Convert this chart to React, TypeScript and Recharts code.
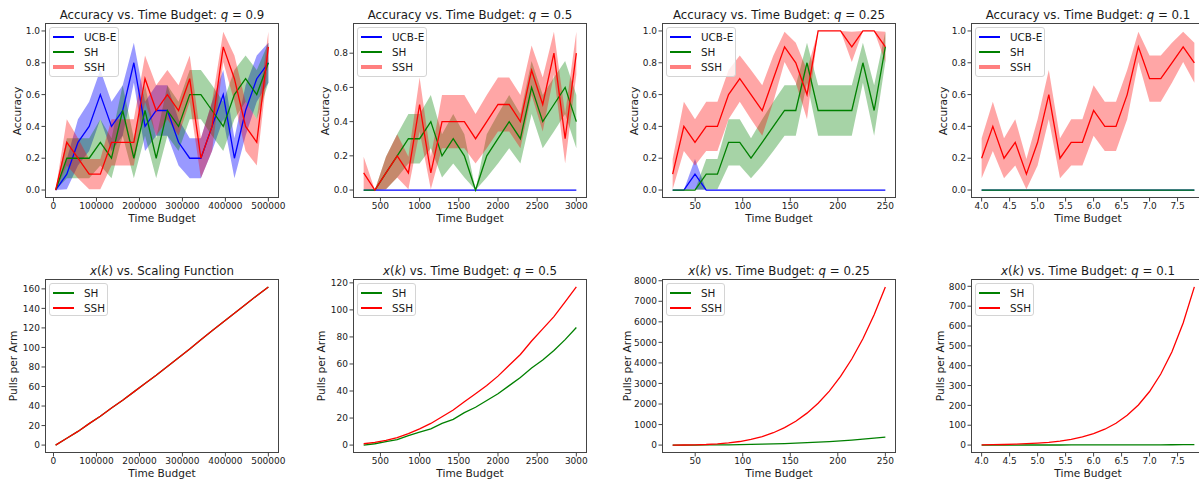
import React from 'react';
import { ComposedChart, Line, Area, XAxis, YAxis } from 'recharts';

const FONT = "'DejaVu Sans', 'Liberation Sans', sans-serif";

// time budgets (x values) per experiment
const BUDGET_Q09 = [5000, 31000, 57000, 83000, 109000, 135000, 161000, 187000, 213000, 239000, 265000, 291000, 317000, 343000, 369000, 395000, 421000, 447000, 473000, 500000];
const BUDGET_Q05 = [286, 429, 571, 714, 857, 1000, 1143, 1286, 1429, 1571, 1714, 1857, 2000, 2143, 2286, 2429, 2571, 2714, 2857, 3000];
const BUDGET_Q025 = [26.3, 38.1, 49.8, 61.6, 73.4, 85.1, 96.9, 108.7, 120.5, 132.2, 144.0, 155.8, 167.6, 179.3, 191.1, 202.9, 214.7, 226.4, 238.2, 250];
const BUDGET_Q01 = [4.0, 4.2, 4.4, 4.6, 4.8, 5.0, 5.2, 5.4, 5.6, 5.8, 6.0, 6.2, 6.4, 6.6, 6.8, 7.0, 7.2, 7.4, 7.6, 7.8];

// accuracy means
const ACC_UCB_Q09 = [0, 0.1, 0.3, 0.4, 0.6, 0.4, 0.5, 0.8, 0.4, 0.5, 0.5, 0.3, 0.2, 0.2, 0.4, 0.6, 0.2, 0.5, 0.7, 0.8];
const ACC_SH_Q09 = [0, 0.2, 0.2, 0.2, 0.3, 0.2, 0.5, 0.2, 0.5, 0.2, 0.5, 0.4, 0.6, 0.6, 0.5, 0.4, 0.6, 0.7, 0.6, 0.8];
const ACC_SSH_Q09 = [0, 0.3, 0.2, 0.1, 0.1, 0.3, 0.3, 0.3, 0.7, 0.5, 0.6, 0.5, 0.7, 0.2, 0.4, 0.9, 0.7, 0.4, 0.3, 0.9];

const ACC_UCB_Q05 = [0, 0, 0, 0, 0, 0, 0, 0, 0, 0, 0, 0, 0, 0, 0, 0, 0, 0, 0, 0];
const ACC_SH_Q05 = [0, 0, 0.1, 0.2, 0.3, 0.3, 0.4, 0.2, 0.3, 0.2, 0, 0.2, 0.3, 0.4, 0.3, 0.6, 0.4, 0.5, 0.6, 0.4];
const ACC_SSH_Q05 = [0.1, 0, 0.1, 0.2, 0.1, 0.5, 0.1, 0.4, 0.4, 0.4, 0.3, 0.4, 0.5, 0.5, 0.4, 0.7, 0.5, 0.8, 0.3, 0.8];

const ACC_UCB_Q025 = [0, 0, 0.1, 0, 0, 0, 0, 0, 0, 0, 0, 0, 0, 0, 0, 0, 0, 0, 0, 0];
const ACC_SH_Q025 = [0, 0, 0, 0.1, 0.1, 0.3, 0.3, 0.2, 0.3, 0.4, 0.5, 0.5, 0.8, 0.5, 0.5, 0.5, 0.5, 0.8, 0.5, 0.9];
const ACC_SSH_Q025 = [0.1, 0.4, 0.3, 0.4, 0.4, 0.6, 0.7, 0.6, 0.5, 0.7, 0.9, 0.8, 0.6, 1.0, 1.0, 1.0, 0.9, 1.0, 1.0, 0.9];

const ACC_UCB_Q01 = [0, 0, 0, 0, 0, 0, 0, 0, 0, 0, 0, 0, 0, 0, 0, 0, 0, 0, 0, 0];
const ACC_SH_Q01 = [0, 0, 0, 0, 0, 0, 0, 0, 0, 0, 0, 0, 0, 0, 0, 0, 0, 0, 0, 0];
const ACC_SSH_Q01 = [0.2, 0.4, 0.2, 0.3, 0.1, 0.3, 0.6, 0.2, 0.3, 0.3, 0.5, 0.4, 0.4, 0.6, 0.9, 0.7, 0.7, 0.8, 0.9, 0.8];

// half width of the shaded band, by accuracy level 0.0, 0.1, ... 1.0
const BAND_HALF = [0, 0.095, 0.126, 0.145, 0.155, 0.158, 0.155, 0.145, 0.126, 0.095, 0];

// pulls per arm
const PULLS_SH_SCALING = [0, 7, 14, 22, 29.5, 38, 46, 54.5, 63, 71.5, 80.5, 89.5, 98.5, 108, 117, 126, 135, 144, 153, 162];
const PULLS_SSH_SCALING = [0, 7, 14, 22, 29.5, 38, 46, 54.5, 63, 71.5, 80.5, 89.5, 98.5, 108, 117, 126, 135, 144, 153, 162];
const PULLS_SH_Q05 = [0, 1, 2.5, 4, 7, 9.5, 12, 16, 19, 24, 28, 33, 38, 44, 50, 57, 63, 70, 78, 87];
const PULLS_SSH_Q05 = [1, 2, 3.5, 5.5, 8.5, 12, 16, 21, 26, 32, 38, 44, 51, 59, 67, 77, 86, 95, 106, 117];
const PULLS_SH_Q025 = [0.5, 1.4, 3.1, 5.8, 9.8, 15, 22, 32, 43, 57, 74, 94, 117, 143, 173, 207, 245, 287, 335, 387];
const PULLS_SSH_Q025 = [1, 4, 12, 28, 57, 103, 174, 275, 416, 602, 848, 1161, 1555, 2037, 2629, 3341, 4189, 5179, 6346, 7700];
const PULLS_SH_Q01 = [0.2, 0.2, 0.3, 0.3, 0.4, 0.4, 0.5, 0.5, 0.6, 0.7, 0.8, 0.9, 1.0, 1.1, 1.2, 1.4, 1.5, 1.7, 1.9, 2.0];
const PULLS_SSH_Q01 = [1, 2, 3, 4.5, 7, 10, 14, 20, 29, 41, 58, 80, 110, 150, 202, 270, 358, 470, 615, 797];

// axis ticks
const TICKS_X_Q09 = [0, 100000, 200000, 300000, 400000, 500000];
const TICKS_X_Q05 = [500, 1000, 1500, 2000, 2500, 3000];
const TICKS_X_Q025 = [50, 100, 150, 200, 250];
const TICKS_X_Q01 = [4.0, 4.5, 5.0, 5.5, 6.0, 6.5, 7.0, 7.5];
const TICKS_ACC = [0, 0.2, 0.4, 0.6, 0.8, 1.0];
const TICKS_ACC_Q05 = [0, 0.2, 0.4, 0.6, 0.8];
const TICKS_PULLS_SCALING = [0, 20, 40, 60, 80, 100, 120, 140, 160];
const TICKS_PULLS_Q05 = [0, 20, 40, 60, 80, 100, 120];
const TICKS_PULLS_Q025 = [0, 1000, 2000, 3000, 4000, 5000, 6000, 7000, 8000];
const TICKS_PULLS_Q01 = [0, 100, 200, 300, 400, 500, 600, 700, 800];

const BLUE = '#0000ff';
const GREEN = '#008000';
const RED = '#ff0000';
const AXIS = '#444';
const TEXT = '#1a1a1a';

const PLOT_W = 234;
const ML = 50;
const MT = 30;
const MR = 10;
const MB = 45;
const COL_LEFT = [45, 353, 662, 971];

type Series = { name: string; color: string; values: number[]; band?: boolean; thickLegend?: boolean };

type Spec = {
  left: number;
  top: number;
  height: number;
  title: React.ReactNode;
  yLabel: string;
  yLabelGap: number;
  xs: number[];
  xDomain: [number, number];
  xTicks: number[];
  xFmt: (v: number) => string;
  yDomain: [number, number];
  yTicks: number[];
  yFmt: (v: number) => string;
  series: Series[];
};

const fmt1 = (v: number) => v.toFixed(1);
const fmt0 = (v: number) => String(v);

function accSeries(ucb: number[], sh: number[], ssh: number[]): Series[] {
  return [
    { name: 'UCB-E', color: BLUE, values: ucb, band: true },
    { name: 'SH', color: GREEN, values: sh, band: true },
    { name: 'SSH', color: RED, values: ssh, band: true, thickLegend: true },
  ];
}

function pullSeries(sh: number[], ssh: number[]): Series[] {
  return [
    { name: 'SH', color: GREEN, values: sh },
    { name: 'SSH', color: RED, values: ssh },
  ];
}

const accTitle = (q: string) => (
  <>
    Accuracy vs. Time Budget: <i>q</i> = {q}
  </>
);
const xkTitle = (q: string) => (
  <>
    <i>x</i>(<i>k</i>) vs. Time Budget: <i>q</i> = {q}
  </>
);

const ROW1_TOP = 23;
const ROW1_H = 175;
const ROW2_TOP = 279;
const ROW2_H = 174;

const PANELS: Spec[] = [
  {
    left: COL_LEFT[0], top: ROW1_TOP, height: ROW1_H, title: accTitle('0.9'), yLabel: 'Accuracy', yLabelGap: 28,
    xs: BUDGET_Q09, xDomain: [-19750, 524750], xTicks: TICKS_X_Q09, xFmt: fmt0,
    yDomain: [-0.05, 1.05], yTicks: TICKS_ACC, yFmt: fmt1,
    series: accSeries(ACC_UCB_Q09, ACC_SH_Q09, ACC_SSH_Q09),
  },
  {
    left: COL_LEFT[1], top: ROW1_TOP, height: ROW1_H, title: accTitle('0.5'), yLabel: 'Accuracy', yLabelGap: 28,
    xs: BUDGET_Q05, xDomain: [150, 3136], xTicks: TICKS_X_Q05, xFmt: fmt0,
    yDomain: [-0.0465, 0.9765], yTicks: TICKS_ACC_Q05, yFmt: fmt1,
    series: accSeries(ACC_UCB_Q05, ACC_SH_Q05, ACC_SSH_Q05),
  },
  {
    left: COL_LEFT[2], top: ROW1_TOP, height: ROW1_H, title: accTitle('0.25'), yLabel: 'Accuracy', yLabelGap: 28,
    xs: BUDGET_Q025, xDomain: [15.1, 261.2], xTicks: TICKS_X_Q025, xFmt: fmt0,
    yDomain: [-0.05, 1.05], yTicks: TICKS_ACC, yFmt: fmt1,
    series: accSeries(ACC_UCB_Q025, ACC_SH_Q025, ACC_SSH_Q025),
  },
  {
    left: COL_LEFT[3], top: ROW1_TOP, height: ROW1_H, title: accTitle('0.1'), yLabel: 'Accuracy', yLabelGap: 28,
    xs: BUDGET_Q01, xDomain: [3.81, 7.99], xTicks: TICKS_X_Q01, xFmt: fmt1,
    yDomain: [-0.05, 1.05], yTicks: TICKS_ACC, yFmt: fmt1,
    series: accSeries(ACC_UCB_Q01, ACC_SH_Q01, ACC_SSH_Q01),
  },
  {
    left: COL_LEFT[0], top: ROW2_TOP, height: ROW2_H,
    title: (<><i>x</i>(<i>k</i>) vs. Scaling Function</>), yLabel: 'Pulls per Arm', yLabelGap: 32,
    xs: BUDGET_Q09, xDomain: [-19750, 524750], xTicks: TICKS_X_Q09, xFmt: fmt0,
    yDomain: [-8.1, 170.1], yTicks: TICKS_PULLS_SCALING, yFmt: fmt0,
    series: pullSeries(PULLS_SH_SCALING, PULLS_SSH_SCALING),
  },
  {
    left: COL_LEFT[1], top: ROW2_TOP, height: ROW2_H, title: xkTitle('0.5'), yLabel: 'Pulls per Arm', yLabelGap: 32,
    xs: BUDGET_Q05, xDomain: [150, 3136], xTicks: TICKS_X_Q05, xFmt: fmt0,
    yDomain: [-5.85, 122.85], yTicks: TICKS_PULLS_Q05, yFmt: fmt0,
    series: pullSeries(PULLS_SH_Q05, PULLS_SSH_Q05),
  },
  {
    left: COL_LEFT[2], top: ROW2_TOP, height: ROW2_H, title: xkTitle('0.25'), yLabel: 'Pulls per Arm', yLabelGap: 35,
    xs: BUDGET_Q025, xDomain: [15.1, 261.2], xTicks: TICKS_X_Q025, xFmt: fmt0,
    yDomain: [-385, 8085], yTicks: TICKS_PULLS_Q025, yFmt: fmt0,
    series: pullSeries(PULLS_SH_Q025, PULLS_SSH_Q025),
  },
  {
    left: COL_LEFT[3], top: ROW2_TOP, height: ROW2_H, title: xkTitle('0.1'), yLabel: 'Pulls per Arm', yLabelGap: 31,
    xs: BUDGET_Q01, xDomain: [3.81, 7.99], xTicks: TICKS_X_Q01, xFmt: fmt1,
    yDomain: [-39.85, 836.85], yTicks: TICKS_PULLS_Q01, yFmt: fmt0,
    series: pullSeries(PULLS_SH_Q01, PULLS_SSH_Q01),
  },
];

function LegendBox({ series }: { series: Series[] }) {
  const wide = series.length === 3;
  return (
    <div
      style={{
        position: 'absolute',
        left: ML + 4,
        top: MT + 4,
        width: wide ? 70 : 59,
        height: wide ? 50 : 33,
        boxSizing: 'border-box',
        border: '1px solid #d4d4d4',
        borderRadius: 3,
        background: 'rgba(255,255,255,0.8)',
        fontFamily: FONT,
        fontSize: 10.4,
        color: TEXT,
      }}
    >
      {series.map((s, i) => (
        <div key={s.name} style={{ position: 'absolute', left: 0, top: 9 + i * 15, height: 0 }}>
          <div
            style={{
              position: 'absolute',
              left: 3,
              width: 21,
              top: s.thickLegend ? -2 : -0.7,
              height: s.thickLegend ? 4 : 1.4,
              background: s.color,
              opacity: s.thickLegend ? 0.5 : 1,
            }}
          />
          <div style={{ position: 'absolute', left: 34, top: -7, lineHeight: '14px', whiteSpace: 'nowrap' }}>{s.name}</div>
        </div>
      ))}
    </div>
  );
}

function Panel({ spec }: { spec: Spec }) {
  const H = spec.height;
  const W = ML + PLOT_W + MR;
  const CH = MT + H + MB;
  const rows = spec.xs.map((x, i) => {
    const row: Record<string, any> = { x };
    spec.series.forEach((s, k) => {
      const v = s.values[i];
      row['v' + k] = v;
      if (s.band) {
        const h = BAND_HALF[Math.round(v * 10)];
        row['b' + k] = [v - h, v + h];
      }
    });
    return row;
  });
  const tickStyle = { fontSize: 9, fontFamily: FONT, fill: TEXT };
  return (
    <div style={{ position: 'absolute', left: spec.left - ML, top: spec.top - MT, width: W, height: CH }}>
      <ComposedChart width={W} height={CH} data={rows} margin={{ top: MT, right: MR, left: 0, bottom: 0 }}>
        <XAxis
          dataKey="x"
          type="number"
          domain={spec.xDomain}
          allowDataOverflow
          ticks={spec.xTicks}
          interval={0}
          tickFormatter={spec.xFmt}
          height={MB}
          axisLine={false}
          tickLine={{ stroke: AXIS }}
          tickSize={3.5}
          tickMargin={1.5}
          tick={tickStyle}
        />
        <YAxis
          type="number"
          domain={spec.yDomain}
          allowDataOverflow
          ticks={spec.yTicks}
          interval={0}
          tickFormatter={spec.yFmt}
          width={ML}
          axisLine={false}
          tickLine={{ stroke: AXIS }}
          tickSize={3.5}
          tickMargin={1.5}
          tick={tickStyle}
        />
        {spec.series.map((s, k) =>
          s.band ? (
            <Area
              key={'b' + k}
              type="linear"
              dataKey={'b' + k}
              stroke="none"
              fill={s.color}
              fillOpacity={s.color === BLUE ? 0.4 : 0.35}
              dot={false}
              activeDot={false}
              isAnimationActive={false}
            />
          ) : null
        )}
        {spec.series.map((s, k) => (
          <Line
            key={'v' + k}
            type="linear"
            dataKey={'v' + k}
            stroke={s.color}
            strokeWidth={1.3}
            dot={false}
            activeDot={false}
            isAnimationActive={false}
          />
        ))}
      </ComposedChart>
      <div
        style={{
          position: 'absolute',
          left: ML,
          top: MT,
          width: PLOT_W,
          height: H,
          boxSizing: 'border-box',
          border: `1px solid ${AXIS}`,
          pointerEvents: 'none',
        }}
      />
      <div
        style={{
          position: 'absolute',
          left: ML,
          width: PLOT_W,
          top: MT - 16,
          lineHeight: '16px',
          textAlign: 'center',
          fontFamily: FONT,
          fontSize: 11.8,
          color: TEXT,
          whiteSpace: 'nowrap',
        }}
      >
        {spec.title}
      </div>
      <div
        style={{
          position: 'absolute',
          left: ML,
          width: PLOT_W,
          top: MT + H + 13,
          lineHeight: '14px',
          textAlign: 'center',
          fontFamily: FONT,
          fontSize: 10.6,
          color: TEXT,
        }}
      >
        Time Budget
      </div>
      <div
        style={{
          position: 'absolute',
          left: ML - spec.yLabelGap,
          top: MT + H / 2,
          transform: 'translate(-50%, -50%) rotate(-90deg)',
          fontFamily: FONT,
          fontSize: 10.6,
          color: TEXT,
          whiteSpace: 'nowrap',
          lineHeight: '14px',
        }}
      >
        {spec.yLabel}
      </div>
      <LegendBox series={spec.series} />
    </div>
  );
}

export default function App() {
  return (
    <div
      style={{
        position: 'fixed',
        left: 0,
        top: 0,
        width: 1199,
        height: 480,
        overflow: 'hidden',
        background: '#fff',
      }}
    >
      {PANELS.map((p, i) => (
        <Panel key={i} spec={p} />
      ))}
    </div>
  );
}
